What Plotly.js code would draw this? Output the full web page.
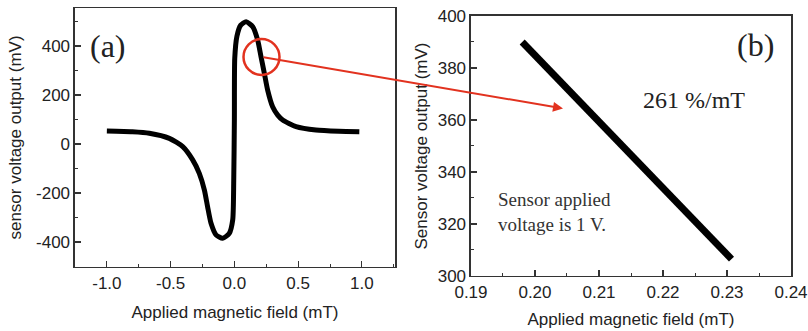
<!DOCTYPE html>
<html>
<head>
<meta charset="utf-8">
<script src="https://cdn.plot.ly/plotly-3.0.1.min.js"></script>
<style>html,body{margin:0;padding:0;background:#fff;}#chart{width:808px;height:331px;}</style>
</head>
<body>
<div id="chart"></div>
<script>
// Panel (a): full sweep
const fieldA = [-1.0, -0.8, -0.667, -0.51, -0.405, -0.327, -0.275, -0.235, -0.21, -0.183, -0.144, -0.092, -0.04, -0.013, -0.005, 0.0, 0.003, 0.02, 0.05, 0.092, 0.144, 0.183, 0.209, 0.235, 0.261, 0.30, 0.34, 0.379, 0.484, 0.64, 0.82, 0.98];
const voltA = [53, 50, 44, 23, -11, -65, -120, -188, -256, -324, -371, -385, -365, -310, -150, 100, 350, 440, 485, 499, 479, 424, 356, 289, 220, 152, 118, 98, 71, 57, 52, 50];
// Panel (b): zoomed linear region
const fieldB = [0.198, 0.205, 0.21, 0.215, 0.22, 0.225, 0.2307];
const voltB = [390, 372, 359.5, 346.5, 334, 321, 306.5];
// Tick labels
const tickValsAx = [-1.0, -0.5, 0.0, 0.5, 1.0];
const tickTextAx = ['-1.0', '-0.5', '0.0', '0.5', '1.0'];
const tickValsAy = [-400, -200, 0, 200, 400];
const tickTextAy = ['-400', '-200', '0', '200', '400'];

const tickFont = {family: 'Liberation Sans, Arial, sans-serif', size: 17, color: '#222'};
const titleFont = {family: 'Liberation Sans, Arial, sans-serif', size: 17, color: '#222'};
const axBase = {
  showline: true, mirror: true, linecolor: '#333', linewidth: 1.5,
  ticks: 'inside', ticklen: 6, tickwidth: 1.2, tickcolor: '#333',
  showgrid: false, zeroline: false, tickfont: tickFont,
  minor: {ticks: 'inside', ticklen: 3, tickwidth: 1, tickcolor: '#333', showgrid: false}
};

const traces = [
  {x: fieldA, y: voltA, type: 'scatter', mode: 'lines', xaxis: 'x', yaxis: 'y',
   line: {color: '#000', width: 5, shape: 'spline', smoothing: 0.6}, hoverinfo: 'skip'},
  {x: fieldB, y: voltB, type: 'scatter', mode: 'lines', xaxis: 'x2', yaxis: 'y2',
   line: {color: '#000', width: 7}, hoverinfo: 'skip'}
];

const layout = {
  width: 808, height: 331,
  margin: {l: 0, r: 0, t: 0, b: 0},
  paper_bgcolor: '#fff', plot_bgcolor: '#fff',
  showlegend: false,
  xaxis: Object.assign({}, axBase, {
    domain: [0.0928, 0.4889], range: [-1.25, 1.26],
    tickmode: 'array', tickvals: tickValsAx, ticktext: tickTextAx,
    minor: Object.assign({}, axBase.minor, {dtick: 0.25, tick0: 0}),
    title: {text: 'Applied magnetic field (mT)', font: titleFont, standoff: 14},
    anchor: 'y', automargin: false
  }),
  yaxis: Object.assign({}, axBase, {
    domain: [0.1934, 0.9758], range: [-502, 555],
    tickmode: 'array', tickvals: tickValsAy, ticktext: tickTextAy,
    minor: Object.assign({}, axBase.minor, {dtick: 100, tick0: 0}),
    title: {text: 'sensor voltage output (mV)', font: titleFont, standoff: 10},
    anchor: 'x', automargin: false
  }),
  xaxis2: Object.assign({}, axBase, {
    domain: [0.5829, 0.979], range: [0.19, 0.24], dtick: 0.01, tick0: 0.19,
    tickformat: '.2f', minor: Object.assign({}, axBase.minor, {dtick: 0.005}),
    title: {text: 'Applied magnetic field (mT)', font: titleFont, standoff: 12},
    anchor: 'y2', automargin: false
  }),
  yaxis2: Object.assign({}, axBase, {
    domain: [0.1662, 0.9517], range: [300, 400], dtick: 20, tick0: 300,
    minor: Object.assign({}, axBase.minor, {dtick: 10}),
    title: {text: 'Sensor voltage output (mV)', font: titleFont, standoff: 6},
    anchor: 'x2', automargin: false
  }),
  shapes: [
    {type: 'circle', xref: 'paper', yref: 'paper',
     x0: 243.5/808, x1: 279.5/808, y0: 1 - 75/331, y1: 1 - 39/331,
     line: {color: '#e2321f', width: 2.5}},
  ],
  annotations: [
    {xref: 'paper', yref: 'paper', x: 108/808, y: 1 - 46/331, xanchor: 'center', yanchor: 'middle',
     text: '(a)', showarrow: false,
     font: {family: 'Liberation Serif, Times New Roman, serif', size: 32, color: '#222'}},
    {xref: 'paper', yref: 'paper', x: 755/808, y: 1 - 45/331, xanchor: 'center', yanchor: 'middle',
     text: '(b)', showarrow: false,
     font: {family: 'Liberation Serif, Times New Roman, serif', size: 32, color: '#222'}},
    {xref: 'paper', yref: 'paper', x: 694/808, y: 1 - 100/331, xanchor: 'center', yanchor: 'middle',
     text: '261 %/mT', showarrow: false,
     font: {family: 'Liberation Serif, Times New Roman, serif', size: 24, color: '#222'}},
    {xref: 'paper', yref: 'paper', x: 496/808, y: 1 - 212/331, xanchor: 'left', yanchor: 'middle', align: 'left',
     text: 'Sensor applied<br>voltage is 1 V.', showarrow: false,
     font: {family: 'Liberation Serif, Times New Roman, serif', size: 19, color: '#333'}},
    {xref: 'paper', yref: 'paper', axref: 'pixel', ayref: 'pixel',
     x: 563/808, y: 1 - 108.5/331, ax: 262 - 563, ay: 57 - 108.5,
     text: '', showarrow: true, arrowhead: 2, arrowsize: 1, arrowwidth: 2, arrowcolor: '#e2321f'}
  ]
};

Plotly.newPlot('chart', traces, layout, {staticPlot: true, displayModeBar: false});
</script>
</body>
</html>
